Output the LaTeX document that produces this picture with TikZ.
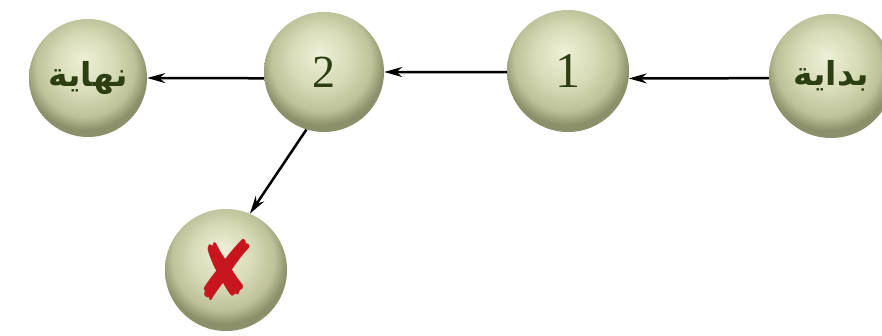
\documentclass[tikz,border=0pt]{standalone}
\usepackage{fontspec}
\usetikzlibrary{arrows.meta}
\setmainfont{Liberation Serif}
\newfontfamily\arabicfont[Script=Arabic]{DejaVu Sans}
\newfontfamily\symbolfont{DejaVu Sans}
\TeXXeTstate=1

\definecolor{pearlHi}{RGB}{238,240,216}
\definecolor{pearlMid}{RGB}{216,220,184}
\definecolor{pearlLow}{RGB}{190,194,154}
\definecolor{pearlEdge}{RGB}{140,144,106}
\definecolor{labelGreen}{RGB}{45,62,18}
\definecolor{crossRed}{RGB}{200,22,30}

\pgfdeclareradialshading{pearl}{\pgfpoint{-2bp}{8bp}}{%
	color(0bp)=(pearlHi); color(12bp)=(pearlMid); color(21bp)=(pearlLow); color(26bp)=(pearlEdge); color(50bp)=(pearlEdge)}

\tikzset{
	ball/.style={circle, shading=pearl, inner sep=0pt, text=labelGreen},
	link/.style={-{Stealth[length=18pt,width=10pt]}, line width=2.5pt}
}

\begin{document}
\begin{tikzpicture}[x=1pt,y=1pt]
\useasboundingbox[fill=white] (0,0) rectangle (882,335);

% Draw balls
\node[ball, minimum size=118pt] (finish) at (88,257) {\arabicfont\bfseries\fontsize{33}{36}\selectfont\beginR نهاية\endR};
\node[ball, minimum size=120pt] (two) at (324,263) {\fontsize{46}{50}\selectfont 2};
\node[ball, minimum size=122pt] (one) at (568,264) {\fontsize{50}{54}\selectfont 1};
\node[ball, minimum size=124pt] (start) at (831,259) {\arabicfont\bfseries\fontsize{33}{36}\selectfont\beginR بداية\endR};
\node[ball, minimum size=122pt] (lost) at (226,65) {\symbolfont\color{crossRed}\fontsize{72}{76}\selectfont\scalebox{1}[1.15]{✘}};

% Draw links
\draw[link] (start.182) -- (one.-7);
\draw[link] (one.181) -- (two.0);
\draw[link] (two.186) -- (finish.0);
\draw[link] (two.253) -- (lost.67);
\end{tikzpicture}
\end{document}
